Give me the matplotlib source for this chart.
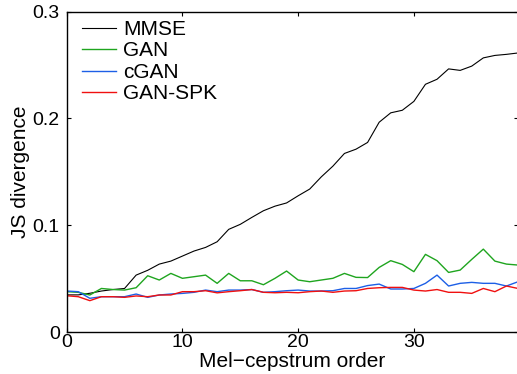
import numpy as np
import matplotlib
matplotlib.use("Agg")
import matplotlib.pyplot as plt

plt.rcParams['font.family'] = ['Liberation Sans', 'DejaVu Sans']

order = np.arange(40)

mmse = [0.035, 0.035, 0.0365, 0.0386, 0.040, 0.041, 0.0535, 0.058, 0.0638, 0.0666,
        0.0713, 0.076, 0.0794, 0.0847, 0.0963, 0.101, 0.1075, 0.1137, 0.118, 0.121,
        0.1277, 0.134, 0.1454, 0.1554, 0.1673, 0.1713, 0.1776, 0.1965, 0.2053, 0.2077,
        0.216, 0.232, 0.2367, 0.2464, 0.245, 0.249, 0.2567, 0.259, 0.260, 0.2613]

gan = [0.038, 0.0374, 0.0349, 0.041, 0.040, 0.0395, 0.0417, 0.0529, 0.0489, 0.0551,
       0.0505, 0.052, 0.0535, 0.0458, 0.0551, 0.0482, 0.0482, 0.0445, 0.0505, 0.0573,
       0.0489, 0.0473, 0.0489, 0.0505, 0.0551, 0.0514, 0.0512, 0.0607, 0.067, 0.0635,
       0.0567, 0.0729, 0.067, 0.056, 0.0582, 0.0682, 0.0778, 0.0666, 0.0638, 0.0629]

cgan = [0.0386, 0.038, 0.0318, 0.0333, 0.0333, 0.0333, 0.0358, 0.0327, 0.0349, 0.0358,
        0.0364, 0.0374, 0.0395, 0.038, 0.0395, 0.0395, 0.040, 0.0374, 0.038, 0.0389,
        0.0395, 0.0386, 0.0386, 0.0389, 0.041, 0.041, 0.0437, 0.0451, 0.0405, 0.0405,
        0.041, 0.0458, 0.0535, 0.0433, 0.0458, 0.0467, 0.0458, 0.0458, 0.0433, 0.0473]

gan_spk = [0.0342, 0.0333, 0.0296, 0.0333, 0.0333, 0.0327, 0.034, 0.0333, 0.0349, 0.0349,
           0.038, 0.038, 0.0389, 0.0369, 0.038, 0.0389, 0.040, 0.0374, 0.037, 0.0374,
           0.037, 0.038, 0.0386, 0.0374, 0.0386, 0.0389, 0.041, 0.0417, 0.042, 0.042,
           0.0395, 0.0386, 0.040, 0.0374, 0.0374, 0.0364, 0.041, 0.038, 0.0433, 0.041]

fig = plt.figure(figsize=(5.17, 3.74), dpi=100)
ax = fig.add_axes([0.129, 0.1115, 0.873, 0.8575])

ax.plot(order, mmse, color='black', lw=0.8, label='MMSE')
ax.plot(order, gan, color='#1fa51f', lw=1.0, label='GAN')
ax.plot(order, cgan, color='#1d5fe6', lw=1.0, label='cGAN')
ax.plot(order, gan_spk, color='#f01010', lw=1.0, label='GAN-SPK')

ax.set_xlim(0, 39)
ax.set_ylim(0, 0.3)
ax.set_xticks([0, 10, 20, 30])
ax.set_yticks([0, 0.1, 0.2, 0.3])
ax.set_yticklabels(['0', '0.1', '0.2', '0.3'])
ax.tick_params(direction='in', top=True, right=True, labelsize=14, length=3)
ax.tick_params(axis='x', pad=1)
ax.tick_params(axis='y', pad=5)
for s in ax.spines.values():
    s.set_linewidth(1.0)

ax.set_xlabel('Mel\u2212cepstrum order', fontsize=15, labelpad=1)
ax.set_ylabel('JS divergence', fontsize=15, labelpad=2)

ax.legend(loc='upper left', frameon=False, fontsize=15, handlelength=1.6,
          labelspacing=0.12, handletextpad=0.35, borderaxespad=0.0,
          bbox_to_anchor=(0.016, 1.0))

fig.savefig('out.png', dpi=100)
